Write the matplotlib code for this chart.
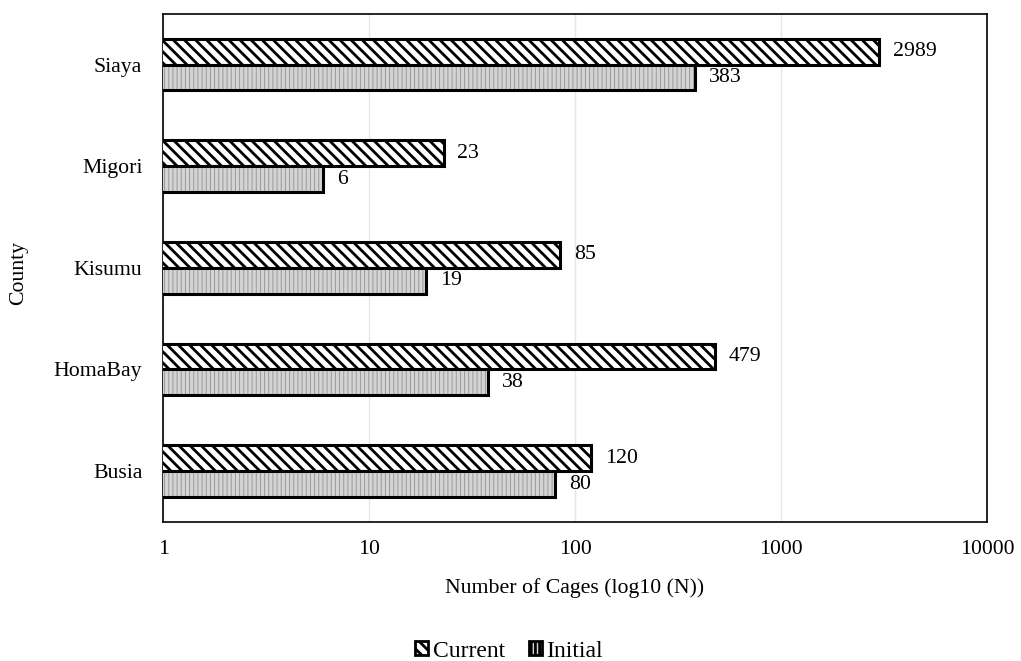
import numpy as np
import matplotlib.pyplot as plt
from matplotlib.patches import Patch

plt.rcParams['font.family'] = ['Liberation Serif', 'DejaVu Serif']
plt.rcParams['hatch.linewidth'] = 2.0

counties = ['Busia', 'HomaBay', 'Kisumu', 'Migori', 'Siaya']
current = [120, 479, 85, 23, 2989]
initial = [80, 38, 19, 6, 383]

fs = 15.7

fig = plt.figure(figsize=(10.21, 6.61), dpi=100)
ax = fig.add_axes([0.1597, 0.2103, 0.807, 0.769])

y = np.arange(len(counties))
h = 0.255

# current: bold diagonal stripes
ax.barh(y + h / 2, current, height=h, color='white',
        edgecolor='black', linewidth=2.2, hatch='\\\\\\', zorder=3)
# initial: fine grey texture
bars_ini = ax.barh(y - h / 2, initial, height=h, color='#d4d4d4',
                   edgecolor='black', linewidth=2.2, hatch='||||', zorder=3)
for b in bars_ini:
    b._hatch_color = (0.6, 0.6, 0.6, 1)
    b._hatch_linewidth = 0.7

for yy, v in zip(y + h / 2, current):
    ax.annotate(str(v), (v, yy), xytext=(10, 0), textcoords='offset points',
                va='center', ha='left', fontsize=fs)
for yy, v in zip(y - h / 2, initial):
    ax.annotate(str(v), (v, yy), xytext=(10, 0), textcoords='offset points',
                va='center', ha='left', fontsize=fs)

ax.set_xscale('log')
ax.set_xlim(1, 10000)
ax.set_ylim(-0.5, 4.5)
ax.set_xticks([1, 10, 100, 1000, 10000])
ax.set_xticklabels(['1', '10', '100', '1000', '10000'])
ax.xaxis.set_minor_locator(plt.NullLocator())
ax.set_yticks(y)
ax.set_yticklabels(counties)
ax.tick_params(axis='both', length=0, labelsize=fs)
ax.tick_params(axis='x', pad=13)
ax.tick_params(axis='y', pad=15)
ax.grid(axis='x', color='#e6e6e6', linewidth=1, zorder=0)
for s in ax.spines.values():
    s.set_linewidth(1.2)

ax.set_xlabel('Number of Cages (log10 (N))', fontsize=fs, labelpad=14)
ax.set_ylabel('County', fontsize=fs)
ax.yaxis.set_label_coords(-0.164, 0.49)

handles = [Patch(facecolor='white', edgecolor='black', hatch='\\\\\\', linewidth=2),
           Patch(facecolor='#d4d4d4', edgecolor='black', hatch='||||', linewidth=2)]
fig.legend(handles, ['Current', 'Initial'], loc='center', bbox_to_anchor=(0.4985, 0.015),
           ncol=2, frameon=False, fontsize=17, handlelength=0.55, handleheight=0.55,
           columnspacing=1.0, handletextpad=0.2)

fig.savefig('out.png', dpi=100)
